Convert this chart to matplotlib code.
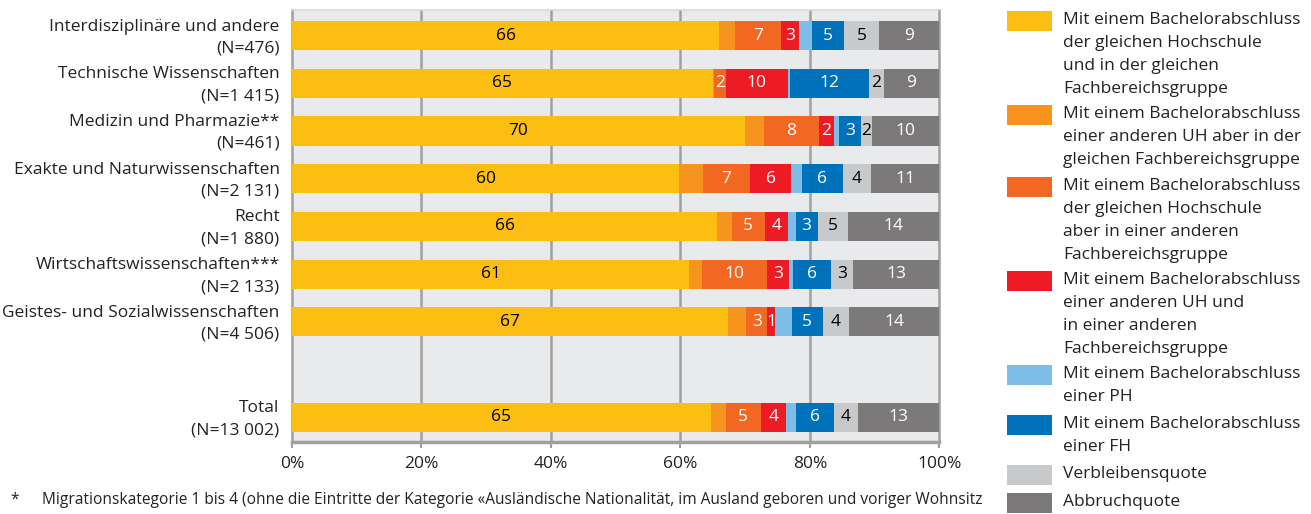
import matplotlib
matplotlib.use("Agg")
import matplotlib.pyplot as plt
import matplotlib.transforms as mtransforms
import numpy as np
from matplotlib.patches import Rectangle

plt.rcParams['font.family'] = ['Open Sans', 'DejaVu Sans']

categories = [
    "Interdisziplinäre und andere\n(N=476)",
    "Technische Wissenschaften\n(N=1 415)",
    "Medizin und Pharmazie**\n(N=461)",
    "Exakte und Naturwissenschaften\n(N=2 131)",
    "Recht\n(N=1 880)",
    "Wirtschaftswissenschaften***\n(N=2 133)",
    "Geistes- und Sozialwissenschaften\n(N=4 506)",
    "Total\n(N=13 002)",
]
row_slots = [0, 1, 2, 3, 4, 5, 6, 8]

s_yellow = [66.0, 65.0, 70.0, 59.8, 65.7, 61.4, 67.4, 64.7]
s_lorange = [2.5, 0.2, 2.9, 3.7, 2.2, 1.9, 2.8, 2.3]
s_orange = [7.0, 1.8, 8.5, 7.3, 5.1, 10.1, 3.2, 5.4]
s_red = [2.8, 9.6, 2.3, 6.3, 3.7, 3.4, 1.2, 3.9]
s_lblue = [2.0, 0.4, 0.8, 1.7, 1.1, 0.6, 2.6, 1.5]
s_blue = [5.0, 12.2, 3.4, 6.3, 3.4, 5.9, 4.8, 5.9]
s_lgrey = [5.4, 2.2, 1.7, 4.3, 4.7, 3.3, 4.0, 3.7]
s_dgrey = [9.3, 8.6, 10.4, 10.6, 14.1, 13.4, 14.0, 12.6]

series = [s_yellow, s_lorange, s_orange, s_red, s_lblue, s_blue, s_lgrey, s_dgrey]
legend_labels = [
    "Mit einem Bachelorabschluss\nder gleichen Hochschule\nund in der gleichen\nFachbereichsgruppe",
    "Mit einem Bachelorabschluss\neiner anderen UH aber in der\ngleichen Fachbereichsgruppe",
    "Mit einem Bachelorabschluss\nder gleichen Hochschule\naber in einer anderen\nFachbereichsgruppe",
    "Mit einem Bachelorabschluss\neiner anderen UH und\nin einer anderen\nFachbereichsgruppe",
    "Mit einem Bachelorabschluss\neiner PH",
    "Mit einem Bachelorabschluss\neiner FH",
    "Verbleibensquote",
    "Abbruchquote",
]
colors = ["#FDBE14", "#F7941D", "#F26722", "#ED1C24", "#7DBDE8", "#0072BC", "#C8C9CB", "#7B7979"]
show_label = [True, False, True, True, False, True, True, True]
text_colors = ["black", "white", "white", "white", "white", "white", "black", "white"]

xticks = [0, 20, 40, 60, 80, 100]
xtick_labels = ["0%", "20%", "40%", "60%", "80%", "100%"]
footnote = "Migrationskategorie 1 bis 4 (ohne die Eintritte der Kategorie «Ausländische Nationalität, im Ausland geboren und voriger Wohnsitz"

W, H = 1311, 514
fig = plt.figure(figsize=(W / 100, H / 100), dpi=100)
ax = fig.add_axes([292 / W, 1 - 441.7 / H, (939.3 - 292) / W, (441.7 - 10) / H])
ax.set_facecolor("#E9EAEC")

fs = 12.5
left = np.zeros(len(categories))
for vals, col, show, tc in zip(series, colors, show_label, text_colors):
    vals = np.array(vals)
    ax.barh(row_slots, vals, left=left, height=0.61, color=col, linewidth=0, zorder=3)
    if show:
        for y, l, v in zip(row_slots, left, vals):
            ax.text(l + v / 2, y, f"{v:.0f}", ha="center", va="center", color=tc,
                    fontsize=fs, zorder=4)
    left = left + vals

ax.set_xlim(0, 100)
ax.set_ylim(8.51, -0.535)
ax.set_yticks(row_slots)
ax.set_yticklabels(categories, fontsize=fs, color="#222222", linespacing=1.5)
ax.tick_params(axis="y", length=0, pad=9)
shift = mtransforms.ScaledTranslation(0, 3 / 100, fig.dpi_scale_trans)
for lbl in ax.get_yticklabels():
    lbl.set_transform(lbl.get_transform() + shift)
ax.set_xticks(xticks)
ax.set_xticklabels(xtick_labels, fontsize=fs, color="#222222")
ax.tick_params(axis="x", length=4, width=1.5, color="#A0A0A0", pad=6)
for x in xticks[1:-1]:
    ax.axvline(x, color="#A0A0A0", linewidth=1.8, zorder=1)

for s in ["left", "right"]:
    ax.spines[s].set_color("#A0A0A0")
    ax.spines[s].set_linewidth(1.8)
ax.spines["bottom"].set_color("#A0A0A0")
ax.spines["bottom"].set_linewidth(2.5)
ax.spines["top"].set_color("#D8D8D8")
ax.spines["top"].set_linewidth(1.2)

# legend drawn manually
line_h = 22
gap = 6
y_top = 11
for lab, col in zip(legend_labels, colors):
    n = lab.count("\n") + 1
    fig.patches.append(Rectangle((1007 / W, 1 - (y_top + 20) / H), 45 / W, 20 / H,
                                 transform=fig.transFigure, facecolor=col, edgecolor="none"))
    fig.text(1063 / W, 1 - (y_top + 1.5) / H, lab, ha="left", va="top", fontsize=fs,
             color="#222222", linespacing=1.56)
    y_top += n * line_h + gap

fig.text(10 / W, 1 - 500 / H, "*", ha="left", va="center", fontsize=11.2, color="#222222")
fig.text(42 / W, 1 - 500 / H, footnote, ha="left", va="center", fontsize=11.2, color="#222222")

fig.savefig("out.png", dpi=100)
